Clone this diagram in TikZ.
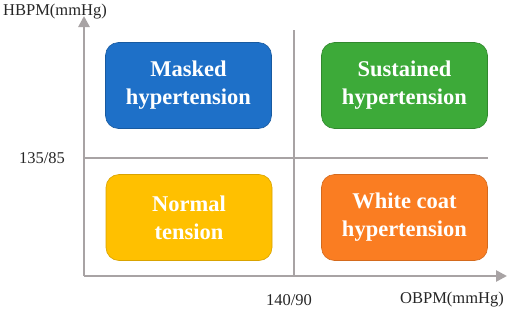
\documentclass[tikz,border=0pt]{standalone}
\usepackage{fontspec}
\setmainfont{Liberation Serif}
\usetikzlibrary{arrows.meta}
\definecolor{axisgray}{HTML}{A8A3A4}
\definecolor{cblue}{HTML}{1E70C8}
\definecolor{cgreen}{HTML}{3DAA39}
\definecolor{cyellow}{HTML}{FFC000}
\definecolor{corange}{HTML}{FA7D22}
\tikzset{
  quad/.style={rounded corners=13pt, minimum width=166pt, minimum height=86pt,
    inner sep=0pt, align=center, text=white, font=\fontsize{22.5}{28}\selectfont\bfseries, line width=0.6pt},
  axis/.style={draw=axisgray, line width=2.6pt},
  divider/.style={draw=axisgray, line width=2pt},
  lab/.style={font=\fontsize{16.5}{19}\selectfont, text=black!85, inner sep=0pt}
}
\begin{document}
\begin{tikzpicture}[x=1pt,y=-1pt]
\useasboundingbox (0,0) rectangle (512,311);
\coordinate (origin) at (84,276);
\coordinate (ytip) at (84,16);
\coordinate (xtip) at (507,276);
\coordinate (vtop) at (294,30);
\coordinate (vbot) at (294,276);
\coordinate (hleft) at (84,158);
\coordinate (hright) at (488,158);
\draw[divider] (vtop) -- (vbot);
\draw[divider] (hleft) -- (hright);
\draw[axis, -{Triangle[length=11pt,width=11pt]}] (origin) -- (ytip);
\draw[axis, -{Triangle[length=11pt,width=11pt]}] (origin) -- (xtip);
\node[quad, fill=cblue, draw=cblue!80!black] (masked) at (188.5,85.5) {Masked\\hypertension};
\node[quad, fill=cgreen, draw=cgreen!80!black] (sustained) at (404.5,85.5) {Sustained\\hypertension};
\node[quad, fill=cyellow, draw=cyellow!85!black] (normal) at (189,217.5) {Normal\\tension};
\node[quad, fill=corange, draw=corange!85!black] (white) at (404.5,217.5) {White coat\\hypertension};
\node[lab, anchor=west] (ylab) at (3,12) {HBPM(mmHg)};
\node[lab] (ytick) at (42,158) {135/85};
\node[lab] (xtick) at (289,300) {140/90};
\node[lab, anchor=east] (xlab) at (504,300) {OBPM(mmHg)};
\end{tikzpicture}
\end{document}
